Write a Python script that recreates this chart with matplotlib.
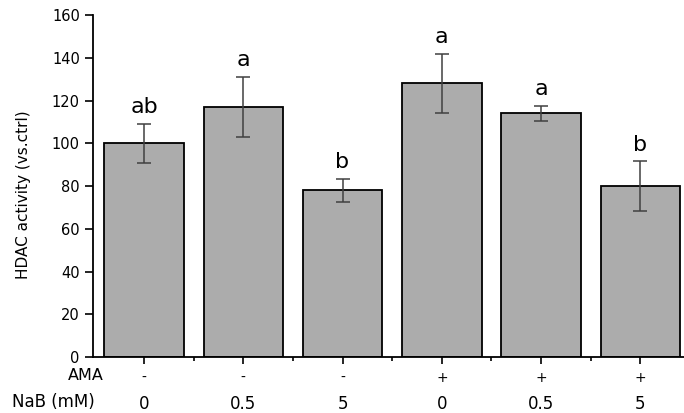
import numpy as np
import matplotlib.pyplot as plt
from matplotlib.transforms import blended_transform_factory

plt.rcParams['font.family'] = ['DejaVu Sans']

# data
ama = ['-', '-', '-', '+', '+', '+']
nab = ['0', '0.5', '5', '0', '0.5', '5']
activity = [100, 117, 78, 128, 114, 80]
err = [9, 14, 5.3, 14, 3.4, 11.6]
letters = ['ab', 'a', 'b', 'a', 'a', 'b']

x = np.arange(1, len(activity) + 1)

fig = plt.figure(figsize=(6.84, 4.13), dpi=100)
ax = fig.add_axes([0.136, 0.1356, 0.864, 0.828])

ax.bar(x, activity, width=0.8, color='#acacac', edgecolor='black', linewidth=1.3)
ax.errorbar(x, activity, yerr=err, fmt='none', ecolor='#404040',
            elinewidth=1.1, capsize=5, capthick=1.1)

for xi, a, e, lab in zip(x, activity, err, letters):
    ax.text(xi, a + e + 5, lab, ha='center', va='baseline', fontsize=16)

ax.set_xlim(0.486, 6.44)
ax.set_ylim(0, 160)
ax.set_yticks(np.arange(0, 161, 20))
ax.set_xticks(x)
ax.set_xticks(x[:-1] + 0.5, minor=True)
ax.set_xticklabels([])
ax.tick_params(axis='y', direction='out', length=6, width=1.2, pad=3.5, labelsize=10.5)
ax.tick_params(axis='x', which='major', direction='out', length=5, width=1.2)
ax.tick_params(axis='x', which='minor', direction='out', length=3, width=1.2)

for side in ['top', 'right']:
    ax.spines[side].set_visible(False)
ax.spines['left'].set_linewidth(1.3)
ax.spines['bottom'].set_linewidth(1.3)

ax.set_ylabel('HDAC activity (vs.ctrl)', fontsize=11)
ax.yaxis.set_label_coords(-0.105, 0.475)

trans = blended_transform_factory(ax.transData, ax.transAxes)
for xi, s1, s2 in zip(x, ama, nab):
    ax.text(xi, -0.062, s1, transform=trans, ha='center', va='center', fontsize=10)
    ax.text(xi, -0.138, s2, transform=trans, ha='center', va='center', fontsize=12)
fig.text(104 / 684, 1 - 376 / 413, 'AMA', ha='right', va='center', fontsize=11.5)
fig.text(12 / 684, 1 - 402 / 413, 'NaB (mM)', ha='left', va='center', fontsize=12)

fig.savefig('out.png', dpi=100)
